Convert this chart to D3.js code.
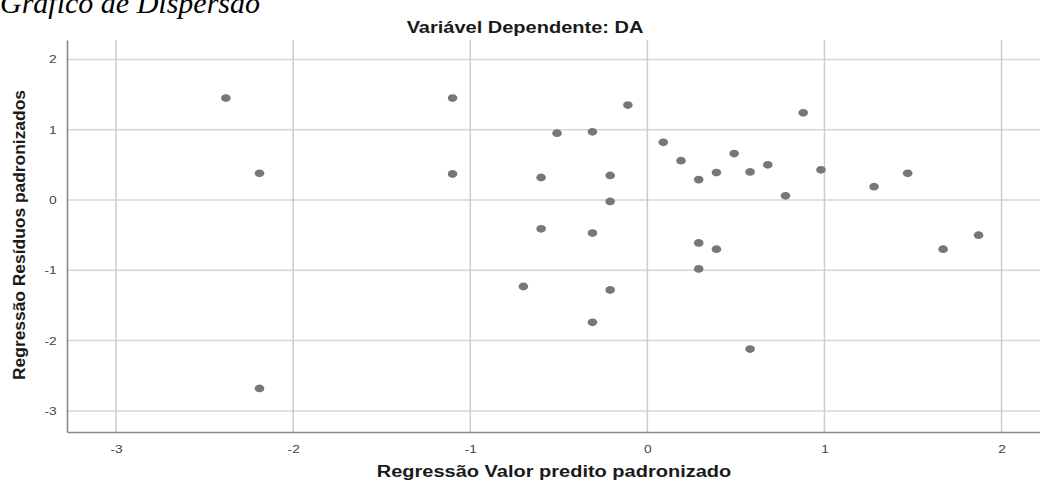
<!DOCTYPE html>
<html>
<head>
<meta charset="utf-8">
<script src="https://cdn.jsdelivr.net/npm/d3@7"></script>
<style>
  html, body { margin: 0; padding: 0; background: #fff; }
  svg { display: block; }
</style>
</head>
<body>
<svg id="chart" width="1040" height="483"></svg>
<script>
// Data: standardized predicted value (x) vs standardized residual (y)
const predicted = [-2.38, -1.10, -2.19, -1.10, -0.60, -0.60, -0.51, -0.11, -0.31, -0.21,
                   -0.21, -0.31, 0.09, 0.19, 0.29, 0.39, 0.49, 0.58, 0.68, 0.78,
                   0.88, 0.98, 1.28, 1.47, 1.87, -0.70, -2.19, 0.29, 0.39, 0.29,
                   -0.21, -0.31, 0.58, 1.67];
const residuals = [1.45, 1.45, 0.38, 0.37, 0.32, -0.41, 0.95, 1.35, 0.97, 0.35,
                   -0.02, -0.47, 0.82, 0.56, 0.29, 0.39, 0.66, 0.40, 0.50, 0.06,
                   1.24, 0.43, 0.19, 0.38, -0.50, -1.23, -2.68, -0.61, -0.70, -0.98,
                   -1.28, -1.74, -2.12, -0.70];
const xTicks = [-3, -2, -1, 0, 1, 2];
const yTicks = [-3, -2, -1, 0, 1, 2];
const pageTitle = "Gráfico de Dispersão";
const chartTitle = "Variável Dependente: DA";
const xLabel = "Regressão Valor predito padronizado";
const yLabel = "Regressão Resíduos padronizados";

(function () {
const svg = d3.select("#chart");
const pLeft = 67, pRight = 1040, pTop = 40, pBottom = 432;
const sx = 1.25; // horizontal stretch of the original picture

const x = d3.scaleLinear().domain([-3.277, 2.217]).range([pLeft, pRight]);
const y = d3.scaleLinear().domain([-3.30, 2.276]).range([pBottom, pTop]);

// page heading (cut off at top)
svg.append("text")
  .attr("x", 0).attr("y", 13)
  .attr("font-family", "'Liberation Serif', 'Times New Roman', serif")
  .attr("font-style", "italic")
  .attr("font-size", 30)
  .attr("fill", "#000")
  .text(pageTitle);

// chart title
svg.append("text")
  .attr("transform", `translate(525,32.5) scale(${sx},1)`)
  .attr("text-anchor", "middle")
  .attr("font-family", "'Liberation Sans', Arial, sans-serif")
  .attr("font-weight", "bold")
  .attr("font-size", 16)
  .attr("fill", "#1a1a1a")
  .text(chartTitle);

// gridlines
const grid = svg.append("g");
grid.selectAll("line.h").data(yTicks).join("line")
  .attr("class", "h")
  .attr("x1", pLeft).attr("x2", pRight)
  .attr("y1", d => y(d)).attr("y2", d => y(d))
  .attr("stroke", "#d6d6d6").attr("stroke-width", 1.5);
grid.selectAll("line.v").data(xTicks).join("line")
  .attr("class", "v")
  .attr("y1", pTop).attr("y2", pBottom)
  .attr("x1", d => x(d)).attr("x2", d => x(d))
  .attr("stroke", "#cccccc").attr("stroke-width", 1.5);

// axes
const fmt = d => String(d);
const xAxis = d3.axisBottom(x).tickValues(xTicks).tickSize(0).tickPadding(13).tickFormat(fmt);
const yAxis = d3.axisLeft(y).tickValues(yTicks).tickSize(0).tickPadding(8).tickFormat(fmt);

const gx = svg.append("g").attr("transform", `translate(0,${pBottom})`).call(xAxis);
const gy = svg.append("g").attr("transform", `translate(${pLeft},0)`).call(yAxis);
[gx, gy].forEach(g => {
  g.select(".domain").attr("stroke", "#8a8a8a").attr("stroke-width", 1.6);
  g.selectAll("text")
    .attr("font-family", "'Liberation Sans', Arial, sans-serif")
    .attr("font-size", 11)
    .attr("fill", "#444");
});
gx.selectAll(".tick text").attr("transform", `scale(${sx},1)`);
gy.selectAll(".tick text").attr("transform", `translate(-1,0) scale(${sx},1)`).attr("x", -7.5);

// points
svg.append("g").selectAll("ellipse")
  .data(predicted.map((p, i) => [p, residuals[i]]))
  .join("ellipse")
  .attr("cx", d => x(d[0]))
  .attr("cy", d => y(d[1]))
  .attr("rx", 4.8).attr("ry", 3.9)
  .attr("fill", "#777777");

// axis labels
svg.append("text")
  .attr("transform", `translate(554,477) scale(${sx},1)`)
  .attr("text-anchor", "middle")
  .attr("font-family", "'Liberation Sans', Arial, sans-serif")
  .attr("font-weight", "bold")
  .attr("font-size", 16)
  .attr("fill", "#1a1a1a")
  .text(xLabel);

svg.append("text")
  .attr("transform", "translate(25,235) rotate(-90)")
  .attr("text-anchor", "middle")
  .attr("font-family", "'Liberation Sans', Arial, sans-serif")
  .attr("font-weight", "bold")
  .attr("font-size", 17.4)
  .attr("fill", "#1a1a1a")
  .text(yLabel);
})();
</script>
</body>
</html>
